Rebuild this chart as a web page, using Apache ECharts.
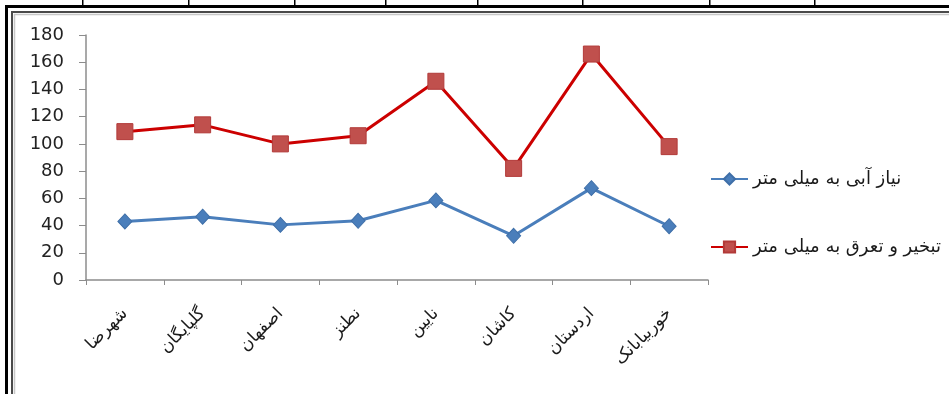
<!DOCTYPE html>
<html>
<head>
<meta charset="utf-8">
<script src="https://cdn.jsdelivr.net/npm/echarts@6/dist/echarts.min.js"></script>
<style>
  html, body { margin: 0; padding: 0; background: #ffffff; }
  #chart { width: 949px; height: 394px; }
</style>
</head>
<body>
<div id="chart"></div>
<script>
// Stations along the x axis
const categories = ['شهرضا', 'گلپایگان', 'اصفهان', 'نطنز', 'نایین', 'کاشان', 'اردستان', 'خوربیابانک'];

// Water requirement (mm)
const waterNeed = [43, 46.5, 40.5, 43.5, 58.5, 32.5, 67.5, 39.5];
// Evapotranspiration (mm)
const evapotranspiration = [109, 114, 100, 106, 146, 82, 166, 98];

const seriesNames = ['نیاز آبی به میلی متر', 'تبخیر و تعرق به میلی متر'];
const yTicks = { min: 0, max: 180, interval: 20 };

// x positions of the table column rules above the chart frame
const tableRules = [82, 188, 294, 385, 477, 582, 709, 814];

const chart = echarts.init(document.getElementById('chart'), null, { renderer: 'canvas' });

const frameGraphics = [
  // table border along the top
  { type: 'rect', shape: { x: 6, y: 5, width: 949, height: 3 }, style: { fill: '#000' }, z: 10 },
  // outer left border
  { type: 'rect', shape: { x: 5, y: 5, width: 3, height: 400 }, style: { fill: '#000' }, z: 10 },
  // chart frame
  { type: 'rect', shape: { x: 12, y: 12, width: 960, height: 400 },
    style: { fill: 'none', stroke: '#4a4a4a', lineWidth: 2 }, z: 10 },
  { type: 'rect', shape: { x: 14.5, y: 14.5, width: 960, height: 400 },
    style: { fill: 'none', stroke: '#c8c8c8', lineWidth: 1.5 }, z: 10 }
].concat(tableRules.map(x => ({
  type: 'rect', shape: { x: x, y: 0, width: 1.5, height: 6 }, style: { fill: '#000' }, z: 10
})));

chart.setOption({
  backgroundColor: '#ffffff',
  animation: false,
  grid: { left: 86, right: 241, top: 35, bottom: 114, containLabel: false },
  legend: {
    orient: 'vertical',
    left: 705,
    top: 165,
    itemWidth: 37,
    itemHeight: 14,
    itemGap: 50,
    textStyle: { fontFamily: 'DejaVu Sans', fontSize: 18, color: '#1a1a1a' },
    data: seriesNames
  },
  xAxis: {
    type: 'category',
    data: categories,
    boundaryGap: true,
    axisLine: { lineStyle: { color: '#8c8c8c', width: 1.5 } },
    axisTick: { show: true, length: 5, alignWithLabel: false, lineStyle: { color: '#8c8c8c' } },
    axisLabel: {
      rotate: 45,
      margin: 31,
      interval: 0,
      fontFamily: 'DejaVu Sans',
      fontSize: 17,
      color: '#1a1a1a'
    },
    splitLine: { show: false }
  },
  yAxis: {
    type: 'value',
    min: yTicks.min,
    max: yTicks.max,
    interval: yTicks.interval,
    axisLine: { show: true, lineStyle: { color: '#8c8c8c', width: 1.5 } },
    axisTick: { show: true, inside: false, length: 7, lineStyle: { color: '#8c8c8c' } },
    axisLabel: { margin: 22, fontFamily: 'DejaVu Sans', fontSize: 18, color: '#222' },
    splitLine: { show: false }
  },
  series: [
    {
      name: seriesNames[0],
      type: 'line',
      data: waterNeed,
      symbol: 'diamond',
      symbolSize: [14, 15],
      lineStyle: { color: '#4a7ebb', width: 3 },
      itemStyle: { color: '#4a7ebb', borderColor: '#3f6fa8', borderWidth: 1 },
      emphasis: { disabled: true }
    },
    {
      name: seriesNames[1],
      type: 'line',
      data: evapotranspiration,
      symbol: 'rect',
      symbolSize: 16,
      lineStyle: { color: '#cc0000', width: 3 },
      itemStyle: { color: '#c0504d', borderColor: '#b23a38', borderWidth: 1 },
      emphasis: { disabled: true }
    }
  ],
  graphic: frameGraphics
});
</script>
</body>
</html>
